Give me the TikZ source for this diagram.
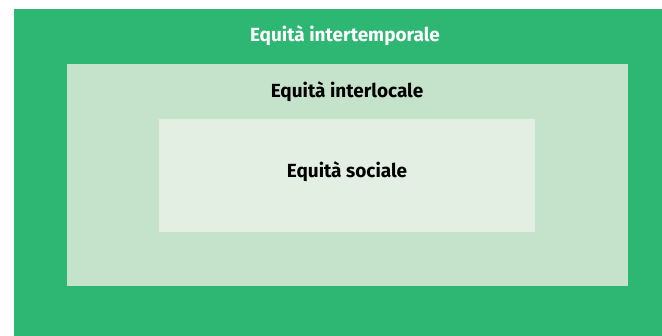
\documentclass[tikz,border=0pt]{standalone}
\usepackage{fontspec}
\setmainfont{Fira Sans}
\definecolor{eqgreen}{RGB}{46, 182, 115}
\definecolor{eqmint}{RGB}{197, 227, 203}
\definecolor{eqpale}{RGB}{228, 239, 227}

\begin{document}
\begin{tikzpicture}[x=1pt,y=-1pt]
\tikzset{eqlabel/.style={font=\fontsize{19}{22}\selectfont\bfseries}}
\useasboundingbox (0,0) rectangle (662,336);

\fill[eqgreen] (14,9) rectangle (662,336);
\fill[eqmint] (67,64) rectangle (628,286);
\fill[eqpale] (159,119) rectangle (535,232);

\node[eqlabel, white] (intertemp) at (345,36) {Equità intertemporale};
\node[eqlabel, black] (interloc) at (347,92) {Equità interlocale};
\node[eqlabel, black] (sociale) at (347,172) {Equità sociale};

\end{tikzpicture}
\end{document}
